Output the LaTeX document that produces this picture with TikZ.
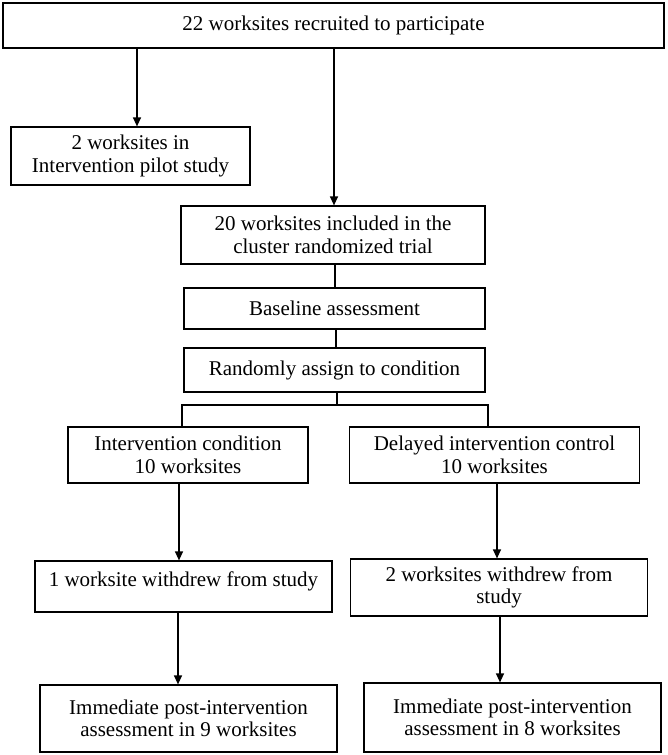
\documentclass[tikz,border=0pt]{standalone}
\usepackage{fontspec}
\setmainfont{Liberation Serif}
\usetikzlibrary{arrows.meta}
\tikzset{
  box/.style={draw, line width=1.2pt, inner sep=0pt, align=center,
    font=\fontsize{21}{22.5}\selectfont},
  arr/.style={line width=1.2pt, -{Triangle[width=8pt,length=9pt]}},
  conn/.style={line width=1.2pt}
}
\begin{document}
\begin{tikzpicture}[x=1pt,y=-1pt]
\useasboundingbox (0,0) rectangle (667,755);
\node[box, minimum width=661pt, minimum height=45pt] (top) at (333.5,25.5) {22 worksites recruited to participate};
\node[box, minimum width=239pt, minimum height=58pt] (pilot) at (130.5,156) {2 worksites in\\Intervention pilot study};
\node[box, minimum width=304pt, minimum height=58pt] (incl) at (333,235) {20 worksites included in the\\cluster randomized trial};
\node[box, minimum width=301pt, minimum height=41pt] (base) at (334.5,308.5) {Baseline assessment};
\node[box, minimum width=301pt, minimum height=44pt] (rand) at (334.5,370) {Randomly assign to condition};
\node[box, minimum width=240pt, minimum height=56pt] (icond) at (188,455) {Intervention condition\\10 worksites};
\node[box, minimum width=290pt, minimum height=56pt] (dcond) at (494.5,455) {Delayed intervention control\\10 worksites};
\node[box, minimum width=297pt, minimum height=51pt] (wl) at (183.5,586.5) {\raisebox{5pt}[\height][\depth]{1 worksite withdrew from study}};
\node[box, minimum width=297pt, minimum height=57pt] (wr) at (499,587.5) {2 worksites withdrew from\\study};
\node[box, minimum width=297pt, minimum height=67pt] (fl) at (188.5,718.5) {Immediate post-intervention\\assessment in 9 worksites};
\node[box, minimum width=297pt, minimum height=69pt] (fr) at (512.5,717.5) {Immediate post-intervention\\assessment in 8 worksites};

\coordinate (xa) at (137,0);
\coordinate (xb) at (334,0);
\coordinate (xc) at (335,0);
\coordinate (xd) at (336,0);
\coordinate (split) at (337,405);
\coordinate (xl) at (182,0);
\coordinate (xr) at (488,0);
\coordinate (xe) at (179,0);
\coordinate (xf) at (497,0);
\coordinate (xg) at (178,0);
\coordinate (xh) at (500,0);

\draw[arr] (top.south -| xa) -- (pilot.north -| xa);
\draw[arr] (top.south -| xb) -- (incl.north -| xb);
\draw[conn] (incl.south -| xc) -- (base.north -| xc);
\draw[conn] (base.south -| xd) -- (rand.north -| xd);
\draw[conn] (rand.south -| split) -- (split);
\draw[conn] (icond.north -| xl) |- (split) -| (dcond.north -| xr);
\draw[arr] (icond.south -| xe) -- (wl.north -| xe);
\draw[arr] (dcond.south -| xf) -- (wr.north -| xf);
\draw[arr] (wl.south -| xg) -- (fl.north -| xg);
\draw[arr] (wr.south -| xh) -- (fr.north -| xh);
\end{tikzpicture}
\end{document}
